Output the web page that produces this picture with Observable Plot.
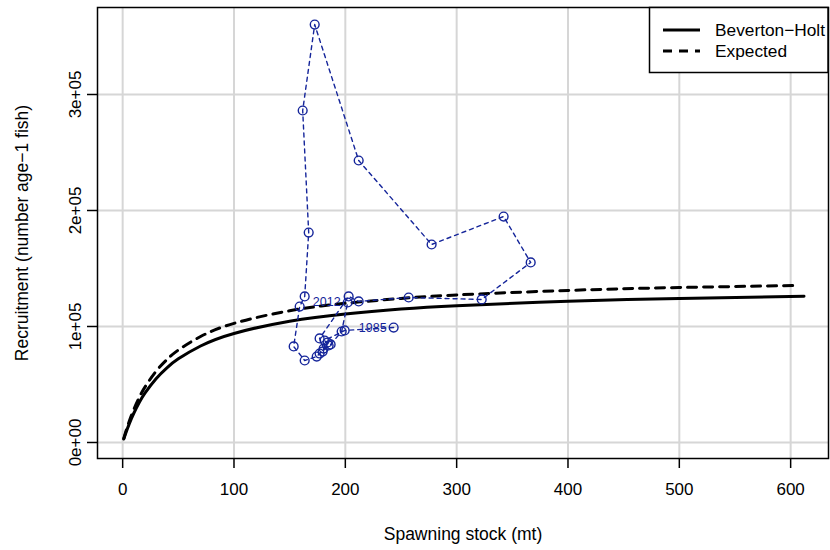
<!DOCTYPE html>
<html>
<head>
<meta charset="utf-8">
<script src="https://cdn.jsdelivr.net/npm/d3@7"></script>
<script src="https://cdn.jsdelivr.net/npm/@observablehq/plot@0.6"></script>
<style>
  html, body { margin: 0; padding: 0; background: #fff; }
  #wrap { position: relative; width: 830px; height: 550px; font-family: "Liberation Sans", Arial, sans-serif; }
</style>
</head>
<body>
<div id="wrap"></div>
<script>
// ---- data ----
const years = [1985, 1986, 1987, 1988, 1989, 1990, 1991, 1992, 1993, 1994, 1995, 1996, 1997, 1998,
               1999, 2000, 2001, 2002, 2003, 2004, 2005, 2006, 2007, 2008, 2009, 2010, 2011, 2012];
const stock = [243.4, 199.4, 181.4, 185.0, 176.9, 174.3, 163.5, 153.6, 159.0, 163.5, 167.1, 161.7, 172.5, 212.0,
               277.5, 342.2, 366.5, 322.5, 256.9, 212.0, 203.0, 176.9, 180.5, 184.1, 179.6, 186.8, 196.7, 202.1];
const recruit = [99100, 96600, 87900, 83600, 76700, 74100, 70700, 82800, 117200, 125900, 181000, 286200, 360300, 243100,
                 170700, 194800, 155200, 123300, 125000, 121600, 125900, 89700, 81000, 86200, 78400, 84500, 95700, 120700];
const labelYears = [1985, 2012];

const bhStock = [1, 3, 6, 10, 15, 20, 30, 40, 50, 70, 100, 150, 200, 250, 300, 400, 500, 612];
const bhRecruit = [3030, 8690, 16300, 25200, 34600, 42500, 55000, 64600, 72100, 83200, 94000, 104600, 110800, 115000, 117900, 121700, 124200, 126000];
const expStock = [1, 3, 6, 10, 15, 20, 30, 40, 50, 70, 100, 150, 200, 250, 300, 400, 500, 605];
const expRecruit = [3470, 9940, 18600, 28500, 39000, 47700, 61400, 71700, 79700, 91400, 102700, 113600, 120000, 124200, 127200, 131100, 133600, 135300];

const xTicks = [0, 100, 200, 300, 400, 500, 600];
const yTicks = [0, 100000, 200000, 300000];
const yTickLabels = ["0e+00", "1e+05", "2e+05", "3e+05"];
const xTitle = "Spawning stock (mt)";
const yTitle = "Recruitment (number age\u22121 fish)";
const legendLabels = ["Beverton\u2212Holt", "Expected"];

// ---- tables ----
const obs = years.map((yr, i) => ({year: yr, S: stock[i], R: recruit[i]}));
const labelled = obs.filter(d => labelYears.includes(d.year));
const bh = bhStock.map((s, i) => ({S: s, R: bhRecruit[i]}));
const ex = expStock.map((s, i) => ({S: s, R: expRecruit[i]}));
const yLab = yTicks.map((v, i) => ({v, label: yTickLabels[i]}));

const blue = "#15259a";
const font = "'Liberation Sans', Arial, sans-serif";

const chart = Plot.plot({
  width: 830,
  height: 550,
  marginLeft: 97,
  marginRight: 2,
  marginTop: 7,
  marginBottom: 92,
  style: {fontFamily: font, fontSize: "17px", background: "white", color: "black"},
  x: {domain: [-22.6, 634]},
  y: {domain: [-13800, 375000]},
  marks: [
    Plot.gridX(xTicks, {stroke: "#d6d6d6", strokeOpacity: 1, strokeWidth: 2}),
    Plot.gridY(yTicks, {stroke: "#d6d6d6", strokeOpacity: 1, strokeWidth: 2}),
    Plot.line(ex, {x: "S", y: "R", stroke: "black", strokeWidth: 3, strokeDasharray: "9,7", curve: "natural"}),
    Plot.line(bh, {x: "S", y: "R", stroke: "black", strokeWidth: 3, curve: "natural"}),
    Plot.line(obs, {x: "S", y: "R", stroke: blue, strokeWidth: 1.4, strokeDasharray: "4,4"}),
    Plot.dot(obs, {x: "S", y: "R", r: 4.4, stroke: blue, fill: "none", strokeWidth: 1.4}),
    Plot.text(labelled, {x: "S", y: "R", text: d => String(d.year), textAnchor: "end", dx: -7, fill: blue, fontSize: 12.5}),
    Plot.frame({stroke: "black", strokeWidth: 1.5}),
    Plot.axisX({ticks: xTicks, tickFormat: d => String(d), tickSize: 10, tickPadding: 14, label: null, fontSize: 17, strokeWidth: 1.5}),
    Plot.axisY({ticks: yTicks, tickFormat: () => "", tickSize: 10, label: null, strokeWidth: 1.5}),
    Plot.text(yLab, {frameAnchor: "left", y: "v", text: "label", dx: -22, rotate: -90, textAnchor: "middle",
                     lineAnchor: "middle", fontSize: 17}),
    Plot.text([xTitle], {frameAnchor: "bottom", dy: 81, text: d => d, fontSize: 17.5}),
    Plot.text([yTitle], {frameAnchor: "left", dx: -75, rotate: -90, textAnchor: "middle", lineAnchor: "middle",
                         text: d => d, fontSize: 17.5})
  ]
});

document.getElementById("wrap").appendChild(chart);

// ---- legend (top-right, inside plot box) ----
const svgNS = "http://www.w3.org/2000/svg";
const leg = document.createElementNS(svgNS, "svg");
leg.setAttribute("width", 830);
leg.setAttribute("height", 550);
leg.style.position = "absolute";
leg.style.left = "0px";
leg.style.top = "0px";
const box = document.createElementNS(svgNS, "rect");
box.setAttribute("x", 649.5); box.setAttribute("y", 7.5);
box.setAttribute("width", 178.5); box.setAttribute("height", 65);
box.setAttribute("fill", "white"); box.setAttribute("stroke", "black"); box.setAttribute("stroke-width", 1.5);
leg.appendChild(box);
const rows = [{y: 30, dash: null}, {y: 51, dash: "9,7"}];
rows.forEach((r, i) => {
  const ln = document.createElementNS(svgNS, "line");
  ln.setAttribute("x1", 663); ln.setAttribute("x2", 700);
  ln.setAttribute("y1", r.y); ln.setAttribute("y2", r.y);
  ln.setAttribute("stroke", "black"); ln.setAttribute("stroke-width", 3);
  if (r.dash) ln.setAttribute("stroke-dasharray", r.dash);
  leg.appendChild(ln);
  const tx = document.createElementNS(svgNS, "text");
  tx.setAttribute("x", 715); tx.setAttribute("y", r.y);
  tx.setAttribute("dy", "0.35em");
  tx.setAttribute("font-family", font);
  tx.setAttribute("font-size", 17.3);
  tx.textContent = legendLabels[i];
  leg.appendChild(tx);
});
document.getElementById("wrap").appendChild(leg);
</script>
</body>
</html>
